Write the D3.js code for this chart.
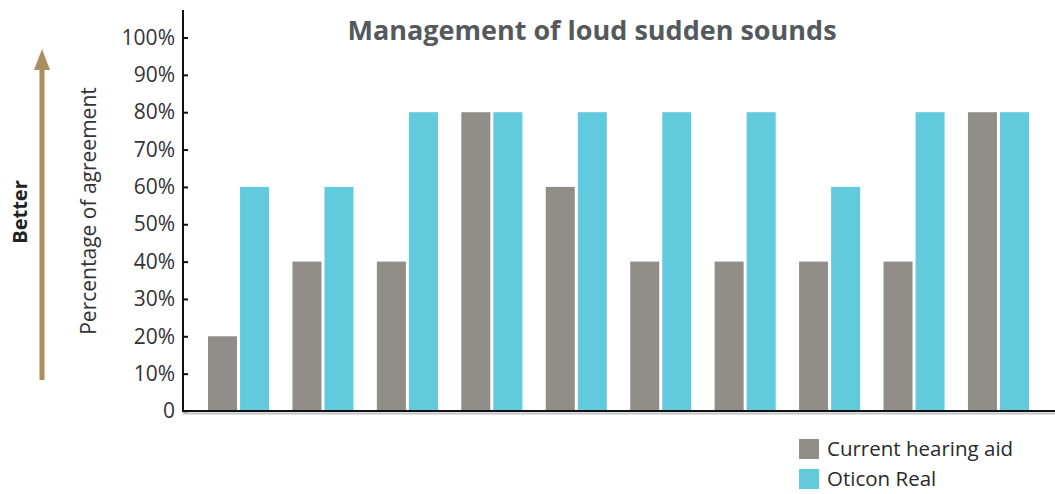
<!DOCTYPE html>
<html>
<head>
<meta charset="utf-8">
<style>
  body { margin: 0; background: #fff; font-family: "Open Sans", sans-serif; }
  svg { display: block; }
</style>
<title>Management of loud sudden sounds</title>
</head>
<body>
<script src="https://cdn.jsdelivr.net/npm/d3@7"></script>
<script>

// Data
var groups = ["1", "2", "3", "4", "5", "6", "7", "8", "9", "10"];
var seriesNames = ["Current hearing aid", "Oticon Real"];
var currentAid = [20, 40, 40, 80, 60, 40, 40, 40, 40, 80];
var oticonReal = [60, 60, 80, 80, 80, 80, 80, 60, 80, 80];
var yTicks = [0, 10, 20, 30, 40, 50, 60, 70, 80, 90, 100];

var colors = ["#918d89", "#62cadd"];
var W = 1055, H = 494;

var svg = d3.select("body").append("svg")
    .attr("width", W)
    .attr("height", H);

var x0 = 183, yBase = 411;

var y = d3.scaleLinear().domain([0, 100]).range([yBase, 37.5]);

var x = d3.scaleBand().domain(groups)
    .range([208, 1029])
    .paddingInner(0.277)
    .paddingOuter(0);

var xs = d3.scaleBand().domain(seriesNames)
    .range([0, x.bandwidth()])
    .paddingInner(0.094);

var color = d3.scaleOrdinal().domain(seriesNames).range(colors);

var rows = groups.map((g, i) => ({g: g, values: [
  {s: seriesNames[0], v: currentAid[i]},
  {s: seriesNames[1], v: oticonReal[i]}
]}));

// bars
svg.append("g").selectAll("g")
  .data(rows)
  .enter().append("g")
    .attr("transform", d => `translate(${x(d.g)},0)`)
  .selectAll("rect")
  .data(d => d.values)
  .enter().append("rect")
    .attr("x", d => xs(d.s))
    .attr("width", xs.bandwidth())
    .attr("y", d => y(d.v))
    .attr("height", d => y(0) - y(d.v))
    .attr("fill", d => color(d.s));

// y axis
var yAxis = svg.append("g")
    .attr("transform", `translate(${x0},0)`)
    .call(d3.axisRight(y).tickValues(yTicks).tickSize(5)
      .tickFormat(d => d === 0 ? "0" : d + "%"));
yAxis.select(".domain").remove();
yAxis.selectAll(".tick line").attr("stroke", "#111").attr("stroke-width", 2);
yAxis.selectAll(".tick text")
    .attr("x", -8)
    .attr("text-anchor", "end")
    .attr("fill", "#333")
    .style("font-family", "Open Sans, sans-serif")
    .style("font-size", "21px");

// axis lines
svg.append("line").attr("x1", x0).attr("x2", x0).attr("y1", 10).attr("y2", yBase + 1)
    .attr("stroke", "#111").attr("stroke-width", 2);
svg.append("line").attr("x1", x0).attr("x2", W).attr("y1", yBase + 2.5).attr("y2", yBase + 2.5)
    .attr("stroke", "#bfc4c6").attr("stroke-width", 2);
svg.append("line").attr("x1", x0 - 1).attr("x2", W).attr("y1", yBase).attr("y2", yBase)
    .attr("stroke", "#111").attr("stroke-width", 2);

// title
svg.append("text")
    .attr("x", 592).attr("y", 40)
    .attr("text-anchor", "middle")
    .attr("fill", "#55595c")
    .style("font-size", "27px")
    .style("font-weight", "bold")
    .text("Management of loud sudden sounds");

// y axis title
svg.append("text")
    .attr("transform", "translate(96,211) rotate(-90)")
    .attr("text-anchor", "middle")
    .attr("fill", "#333")
    .style("font-size", "21px")
    .text("Percentage of agreement");

// "Better" arrow
svg.append("text")
    .attr("transform", "translate(27,212) rotate(-90)")
    .attr("text-anchor", "middle")
    .attr("fill", "#222")
    .style("font-size", "20px")
    .style("font-weight", "bold")
    .text("Better");

svg.append("line").attr("x1", 42).attr("x2", 42).attr("y1", 380).attr("y2", 66)
    .attr("stroke", "#a98e5f").attr("stroke-width", 5);
svg.append("path").attr("d", "M42,49 L50,70 L34,70 Z").attr("fill", "#a98e5f");

// legend
var legend = svg.append("g").selectAll("g")
  .data(seriesNames)
  .enter().append("g")
    .attr("transform", (d, i) => `translate(799,${439 + i * 30})`);
legend.append("rect").attr("width", 20).attr("height", 20).attr("fill", d => color(d));
legend.append("text")
    .attr("x", 28).attr("y", 17)
    .attr("fill", "#2a2a2a")
    .style("font-size", "20.5px")
    .text(d => d);

</script>
</body>
</html>
